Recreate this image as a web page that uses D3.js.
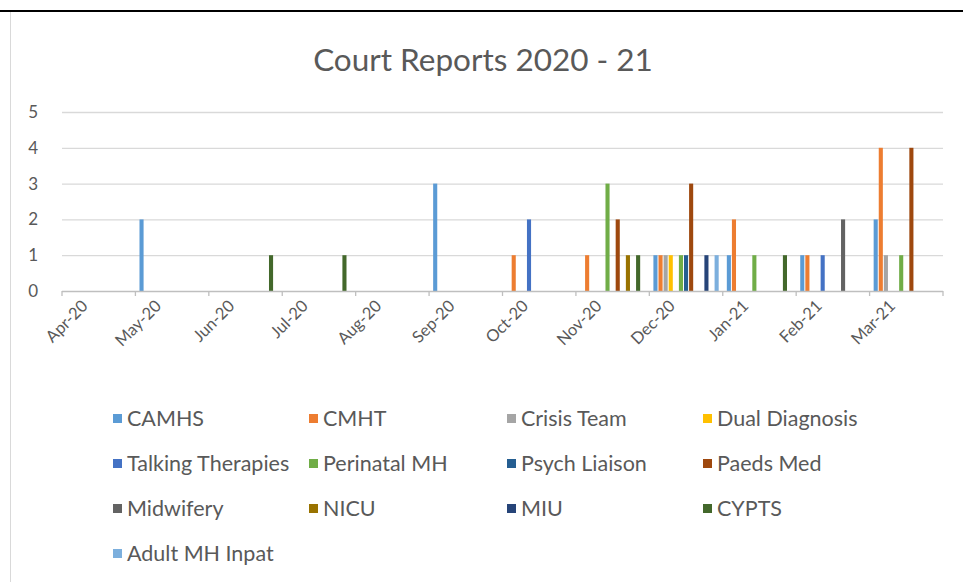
<!DOCTYPE html>
<html>
<head>
<meta charset="utf-8">
<script src="https://cdn.jsdelivr.net/npm/d3@7"></script>
<style>
  body { margin: 0; background: #fff; }
  text { font-family: Lato, "Open Sans", sans-serif; fill: #595959; }
</style>
</head>
<body>
<div id="chart"></div>
<script>
const months = ["Apr-20", "May-20", "Jun-20", "Jul-20", "Aug-20", "Sep-20", "Oct-20", "Nov-20", "Dec-20", "Jan-21", "Feb-21", "Mar-21"];
const seriesNames = ["CAMHS", "CMHT", "Crisis Team", "Dual Diagnosis", "Talking Therapies", "Perinatal MH", "Psych Liaison", "Paeds Med", "Midwifery", "NICU", "MIU", "CYPTS", "Adult MH Inpat"];
const colors = ["#5B9BD5", "#ED7D31", "#A5A5A5", "#FFC000", "#4472C4", "#70AD47", "#255E91", "#9E480E", "#636363", "#997300", "#264478", "#43682B", "#7CAFDD"];

const camhs           = [0, 2, 0, 0, 0, 3, 0, 0, 1, 1, 1, 2];
const cmht            = [0, 0, 0, 0, 0, 0, 1, 1, 1, 2, 1, 4];
const crisisTeam      = [0, 0, 0, 0, 0, 0, 0, 0, 1, 0, 0, 1];
const dualDiagnosis   = [0, 0, 0, 0, 0, 0, 0, 0, 1, 0, 0, 0];
const talkingTherapies= [0, 0, 0, 0, 0, 0, 2, 0, 0, 0, 1, 0];
const perinatalMH     = [0, 0, 0, 0, 0, 0, 0, 3, 1, 1, 0, 1];
const psychLiaison    = [0, 0, 0, 0, 0, 0, 0, 0, 1, 0, 0, 0];
const paedsMed        = [0, 0, 0, 0, 0, 0, 0, 2, 3, 0, 0, 4];
const midwifery       = [0, 0, 0, 0, 0, 0, 0, 0, 0, 0, 2, 0];
const nicu            = [0, 0, 0, 0, 0, 0, 0, 1, 0, 0, 0, 0];
const miu             = [0, 0, 0, 0, 0, 0, 0, 0, 1, 0, 0, 0];
const cypts           = [0, 0, 1, 1, 0, 0, 0, 1, 0, 1, 0, 0];
const adultMHInpat    = [0, 0, 0, 0, 0, 0, 0, 0, 1, 0, 0, 0];

const yTicks = [0, 1, 2, 3, 4, 5];

const seriesValues = [camhs, cmht, crisisTeam, dualDiagnosis, talkingTherapies, perinatalMH, psychLiaison, paedsMed, midwifery, nicu, miu, cypts, adultMHInpat];

const width = 963;
const height = 582;
const plot = { left: 62, right: 943, top: 112, bottom: 291 };

const svg = d3.select("#chart")
    .append("svg")
    .attr("width", width)
    .attr("height", height);

// frame: black rule on top, light border on the left
svg.append("line")
    .attr("x1", 0).attr("x2", width)
    .attr("y1", 11).attr("y2", 11)
    .style("stroke", "#000")
    .style("stroke-width", 2);
svg.append("line")
    .attr("x1", 10.5).attr("x2", 10.5)
    .attr("y1", 12).attr("y2", height)
    .style("stroke", "#d9d9d9")
    .style("stroke-width", 1);

svg.append("text")
    .attr("x", 483)
    .attr("y", 71)
    .attr("text-anchor", "middle")
    .style("font-size", "31.5px")
    .text("Court Reports 2020 - 21");

const x0 = d3.scaleBand()
    .domain(months)
    .range([plot.left, plot.right]);

const x1 = d3.scaleBand()
    .domain(seriesNames)
    .range([0, x0.bandwidth()])
    .paddingOuter(0.7);

const y = d3.scaleLinear()
    .domain([0, 5])
    .range([plot.bottom, plot.top]);

const color = d3.scaleOrdinal()
    .domain(seriesNames)
    .range(colors);

// gridlines + y labels
const yAxis = svg.append("g")
    .attr("transform", `translate(${plot.left},0)`)
    .call(d3.axisLeft(y).tickValues(yTicks).tickFormat(d3.format("d"))
        .tickSize(-(plot.right - plot.left)).tickPadding(24));
yAxis.select(".domain").remove();
yAxis.selectAll(".tick line")
    .style("stroke", d => d === 0 ? "none" : "#d9d9d9")
    .style("stroke-width", 1.3);
yAxis.selectAll(".tick text")
    .style("font-size", "17px")
    .style("fill", "#595959");

// bars
const rows = months.map((m, i) => ({ month: m, values: seriesNames.map((s, j) => ({ name: s, value: seriesValues[j][i] })) }));

const groups = svg.selectAll(".month")
    .data(rows)
    .enter().append("g")
    .attr("class", "month")
    .attr("transform", d => `translate(${x0(d.month)},0)`);

groups.selectAll("rect")
    .data(d => d.values.filter(v => v.value > 0))
    .enter().append("rect")
    .attr("x", d => x1(d.name) + 0.5)
    .attr("width", x1.bandwidth() - 1)
    .attr("y", d => y(d.value))
    .attr("height", d => y(0) - y(d.value))
    .style("fill", d => color(d.name));

// x axis: line, boundary ticks, rotated labels
const xAxis = svg.append("g")
    .attr("transform", `translate(0,${plot.bottom})`)
    .call(d3.axisBottom(x0).tickSize(0).tickPadding(0));
xAxis.select(".domain").remove();
xAxis.selectAll(".tick text")
    .attr("y", 0)
    .attr("dy", "0.35em")
    .attr("text-anchor", "end")
    .attr("transform", "translate(-14,12) rotate(-45)")
    .style("font-size", "16.5px")
    .style("fill", "#595959");

svg.append("line")
    .attr("x1", plot.left).attr("x2", plot.right)
    .attr("y1", plot.bottom + 0.5).attr("y2", plot.bottom + 0.5)
    .style("stroke", "#bfbfbf")
    .style("stroke-width", 1.3);

svg.selectAll(".xtick")
    .data(months.map(m => x0(m)).concat([plot.right]))
    .enter().append("line")
    .attr("class", "xtick")
    .attr("x1", d => d).attr("x2", d => d)
    .attr("y1", plot.bottom).attr("y2", plot.bottom + 5)
    .style("stroke", "#bfbfbf")
    .style("stroke-width", 1.3);

// legend, 4 columns
const legendX = [113, 309, 507, 703];
const legendY = [418, 463, 508, 553];

const legend = svg.selectAll(".legend")
    .data(seriesNames)
    .enter().append("g")
    .attr("class", "legend")
    .attr("transform", (d, i) => `translate(${legendX[i % 4]},${legendY[Math.floor(i / 4)]})`);

legend.append("rect")
    .attr("x", 0)
    .attr("y", -4)
    .attr("width", 9)
    .attr("height", 9)
    .style("fill", d => color(d));

legend.append("text")
    .attr("x", 14)
    .attr("dy", "0.35em")
    .style("font-size", "21.5px")
    .text(d => d);
</script>
</body>
</html>
